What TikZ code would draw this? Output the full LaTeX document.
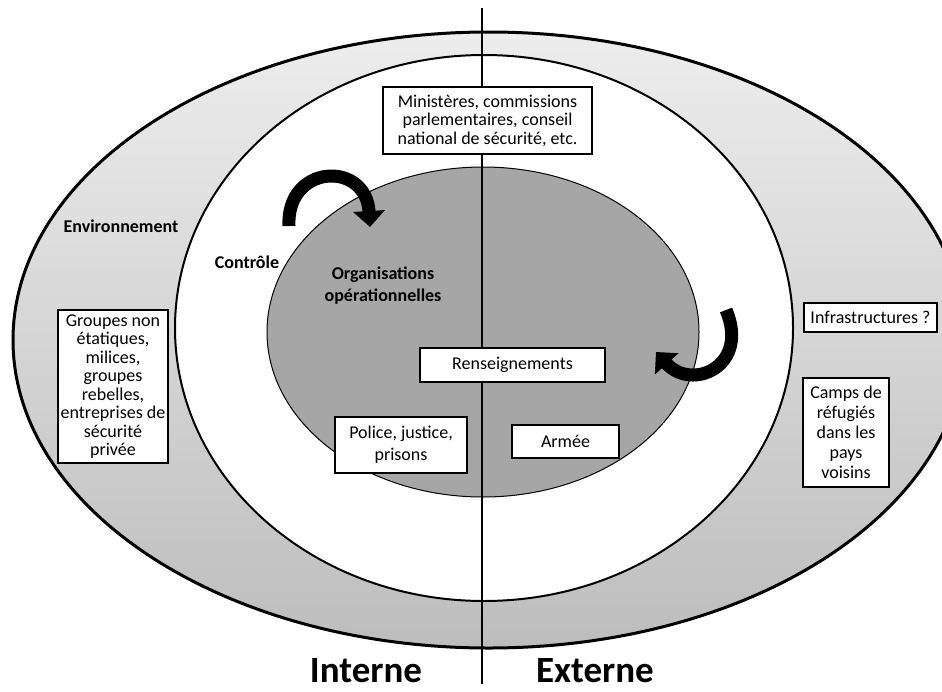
\documentclass[tikz,border=0pt]{standalone}
\usepackage{fontspec}
\setmainfont{Carlito}
\usetikzlibrary{arrows.meta}
\definecolor{bandtop}{HTML}{EDEDED}
\definecolor{bandbot}{HTML}{BDBDBD}
\definecolor{core}{HTML}{A6A6A6}
\tikzset{
  box/.style={draw=black, line width=2pt, fill=white, align=center, inner sep=0.5pt,
    font=\fontsize{18}{18.5}\selectfont},
  lbl/.style={font=\fontsize{18}{22}\selectfont\bfseries, align=center, inner sep=0pt},
  side/.style={font=\fontsize{37}{40}\selectfont\bfseries, inner sep=0pt, anchor=base},
  bigarrow/.style={line width=13pt, -{Triangle[length=16pt,width=31pt]}}
}
\begin{document}
\begin{tikzpicture}[x=1pt,y=-1pt]
\useasboundingbox (0,0) rectangle (942,691);
% outer band (environment), cut off by the right margin
\begin{scope}
  \clip (0,0) rectangle (942,691);
  \path[top color=bandtop, bottom color=bandbot, draw=black, line width=3pt]
    (489,340) ellipse [x radius=476, y radius=308];
\end{scope}
% control ring
\path[fill=white, draw=black, line width=2pt] (484,328) ellipse [x radius=309, y radius=273];
% operational core
\path[fill=core, draw=black, line width=1pt] (483,332) ellipse [x radius=216, y radius=165];

% internal / external divide
\coordinate (divtop) at (482,8);
\coordinate (divbot) at (482,684);
\draw[line width=2.8pt] (divtop) -- (divbot);

% boxes
\node[box, minimum width=209pt, minimum height=67pt] (min) at (487.5,120.5)
  {Ministères, commissions\\parlementaires, conseil\\national de sécurité, etc.};
\node[box, minimum width=185pt, minimum height=34pt] (rens) at (512.5,365) {Renseignements};
\node[box, minimum width=132pt, minimum height=56pt,
      font=\fontsize{18}{21.7}\selectfont] (pol) at (401,445) {Police, justice,\\prisons};
\node[box, minimum width=107pt, minimum height=33pt] (arm) at (565.5,441.5) {Armée};
\node[box, minimum width=110pt, minimum height=153pt] (grp) at (113,386.5)
  {Groupes non\\étatiques,\\milices,\\groupes\\rebelles,\\entreprises de\\sécurité\\privée};
\node[box, minimum width=133pt, minimum height=29pt] (infra) at (870.5,317.5) {Infrastructures ?};
\node[box, minimum width=86pt, minimum height=109pt,
      font=\fontsize{18}{20}\selectfont] (camps) at (846,432.5)
  {Camps de\\réfugiés\\dans les\\pays\\voisins};

% ring labels
\node[lbl] (env) at (121,226) {Environnement};
\node[lbl] (ctl) at (247,262) {Contrôle};
\node[lbl] (org) at (383,286) {Organisations\\opérationnelles};

% side labels
\node[side] (int) at (366,682) {Interne};
\node[side] (ext) at (595,682) {Externe};

% control arrows
\coordinate (a1s) at (289,226);
\coordinate (a1e) at (370,227);
\draw[bigarrow] (a1s) .. controls (286,164) and (366,160) .. (a1e);
\coordinate (a2s) at (726,310);
\coordinate (a2e) at (656,352);
\draw[bigarrow] (a2s) .. controls (750,366) and (692,392) .. (a2e);
\end{tikzpicture}
\end{document}
